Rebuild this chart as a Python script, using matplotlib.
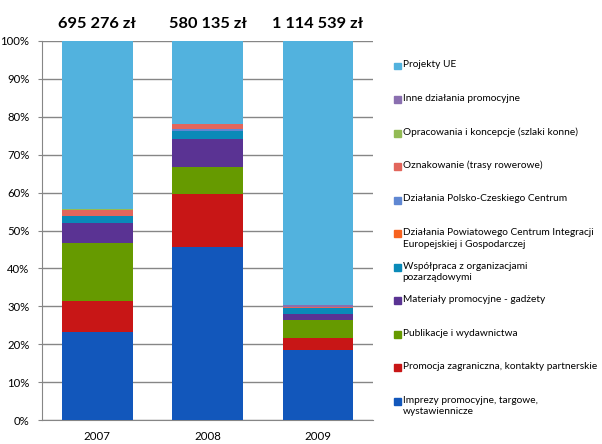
import numpy as np
import matplotlib
matplotlib.use('Agg')
import matplotlib.pyplot as plt
from matplotlib.patches import Rectangle

plt.rcParams['font.family'] = ['Lato', 'DejaVu Sans']

years = ['2007', '2008', '2009']
totals = ['695 276 zł', '580 135 zł', '1 114 539 zł']

# stack order from bottom to top
series = [
    'Imprezy promocyjne, targowe,\nwystawiennicze',
    'Promocja zagraniczna, kontakty partnerskie',
    'Publikacje i wydawnictwa',
    'Materiały promocyjne - gadżety',
    'Współpraca z organizacjami\npozarządowymi',
    'Działania Powiatowego Centrum Integracji\nEuropejskiej i Gospodarczej',
    'Działania Polsko-Czeskiego Centrum',
    'Oznakowanie (trasy rowerowe)',
    'Opracowania i koncepcje (szlaki konne)',
    'Inne działania promocyjne',
    'Projekty UE',
]
colors = ['#1257bb', '#c81616', '#669a00', '#5a3393', '#0a8ab8', '#f7621f',
          '#5f87d2', '#e2665c', '#93bb55', '#8a6fb0', '#52b2de']

imprezy = [23.1, 45.6, 18.5]
promocja = [8.4, 13.9, 3.2]
publikacje = [15.3, 7.3, 4.8]
materialy = [5.1, 7.3, 1.5]
wspolpraca = [1.8, 2.1, 1.6]
powiatowe = [0.0, 0.0, 0.0]
polsko_czeskie = [0.0, 0.5, 0.0]
oznakowanie = [1.6, 1.4, 0.3]
opracowania = [0.3, 0.0, 0.0]
inne = [0.0, 0.0, 0.5]
projekty_ue = [44.4, 21.9, 69.6]

values = [imprezy, promocja, publikacje, materialy, wspolpraca, powiatowe,
          polsko_czeskie, oznakowanie, opracowania, inne, projekty_ue]

fig = plt.figure(figsize=(6.02, 4.44), dpi=100)
ax = fig.add_axes([0.0698, 0.054, 0.55, 0.8537])

x = np.arange(len(years))
bottom = np.zeros(len(years))
for vals, col in zip(values, colors):
    ax.bar(x, vals, 0.64, bottom=bottom, color=col, zorder=3)
    bottom += np.array(vals)

ax.set_xlim(-0.5, 2.5)
ax.set_ylim(0, 100)
ax.set_yticks(np.arange(0, 101, 10))
ax.set_yticklabels([f'{v}%' for v in range(0, 101, 10)], fontsize=8.2)
ax.set_xticks(x)
ax.set_xticklabels(years, fontsize=8.3)
ax.tick_params(axis='x', length=0, pad=8)
ax.tick_params(axis='y', length=3, color='#868686', pad=6)
ax.grid(axis='y', color='#868686', linewidth=1, zorder=0)
for s in ['top', 'right']:
    ax.spines[s].set_visible(False)
for s in ['left', 'bottom']:
    ax.spines[s].set_color('#868686')

for xi, t in zip(x, totals):
    ax.text(xi, 104.6, t, ha='center', va='center', fontsize=11.8,
            fontweight='bold', color='#000000')

# legend drawn as a column of entries, top to bottom
y0 = 0.851
dy = 0.0755
for i, (lab, col) in enumerate(zip(series[::-1], colors[::-1])):
    yy = y0 - i * dy
    fig.patches.append(Rectangle((0.6545, yy - 0.0075), 0.0115, 0.0155,
                                 color=col, transform=fig.transFigure))
    fig.text(0.669, yy + 0.013, lab, fontsize=7.3, va='top', ha='left',
             linespacing=1.4)

fig.savefig('out.png', dpi=100)
